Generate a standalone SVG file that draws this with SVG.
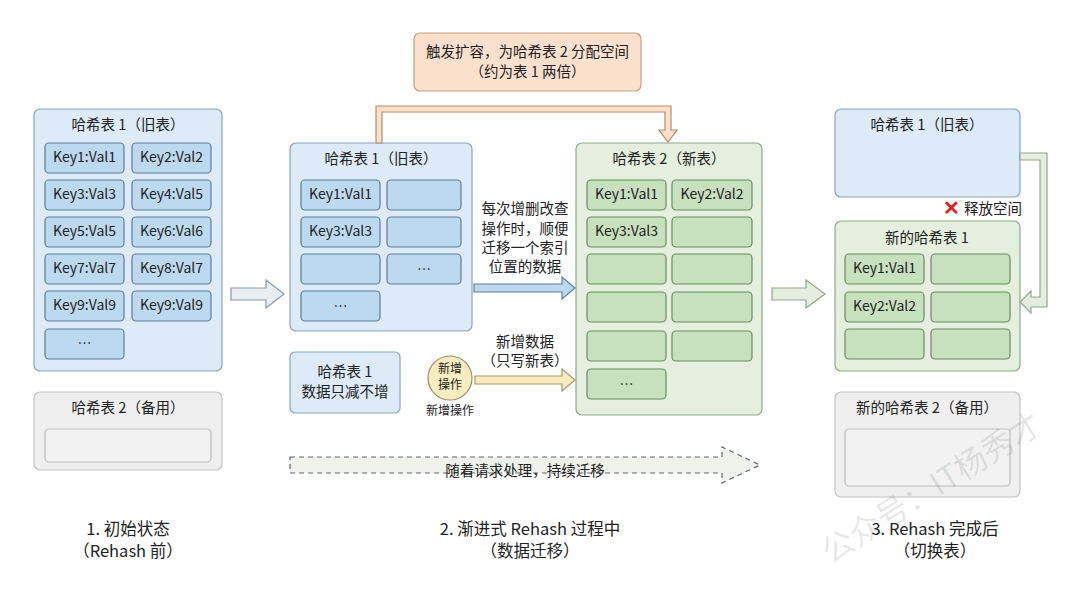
<svg xmlns="http://www.w3.org/2000/svg" width="1080" height="589" viewBox="0 0 1080 589">
<style>
text{font-family:"Noto Sans CJK SC","Noto Sans",sans-serif;fill:#222;text-anchor:middle;dominant-baseline:middle}
.t{font-size:14.5px}
.c{font-size:14px}
.cap{font-size:16.5px}
.bp{fill:#dcebf7;stroke:#8aa4bd;stroke-width:1.2}
.bc{fill:#bcd9ef;stroke:#5d7d99;stroke-width:1.2}
.gp{fill:#e4f0dd;stroke:#8fa989;stroke-width:1.2}
.gc{fill:#c7e0bd;stroke:#6b8a64;stroke-width:1.2}
.yp{fill:#efefef;stroke:#c4c4c4;stroke-width:1.2}
.yc{fill:#f2f2f2;stroke:#bdbdbd;stroke-width:1.2}
</style>
<rect width="1080" height="589" fill="#fff"/>
<g id="left-table1">
<rect class="bp" x="34" y="109" width="188" height="262" rx="6"/>
<text class="t" x="128" y="126">哈希表 1（旧表）</text>
<rect class="bc" x="45" y="143" width="79" height="30" rx="4"/><text class="c" x="84.5" y="158">Key1:Val1</text>
<rect class="bc" x="132" y="143" width="79" height="30" rx="4"/><text class="c" x="171.5" y="158">Key2:Val2</text>
<rect class="bc" x="45" y="180" width="79" height="30" rx="4"/><text class="c" x="84.5" y="195">Key3:Val3</text>
<rect class="bc" x="132" y="180" width="79" height="30" rx="4"/><text class="c" x="171.5" y="195">Key4:Val5</text>
<rect class="bc" x="45" y="217" width="79" height="30" rx="4"/><text class="c" x="84.5" y="232">Key5:Val5</text>
<rect class="bc" x="132" y="217" width="79" height="30" rx="4"/><text class="c" x="171.5" y="232">Key6:Val6</text>
<rect class="bc" x="45" y="254" width="79" height="30" rx="4"/><text class="c" x="84.5" y="269">Key7:Val7</text>
<rect class="bc" x="132" y="254" width="79" height="30" rx="4"/><text class="c" x="171.5" y="269">Key8:Val7</text>
<rect class="bc" x="45" y="291" width="79" height="30" rx="4"/><text class="c" x="84.5" y="306">Key9:Val9</text>
<rect class="bc" x="132" y="291" width="79" height="30" rx="4"/><text class="c" x="171.5" y="306">Key9:Val9</text>
<rect class="bc" x="45" y="329" width="79" height="30" rx="4"/><text class="c" x="84.5" y="344">…</text>
</g>
<g id="left-table2">
<rect class="yp" x="34" y="392" width="188" height="78" rx="6"/>
<text class="t" x="128" y="409">哈希表 2（备用）</text>
<rect class="yc" x="45" y="429" width="166" height="33" rx="4"/>
</g>
<g id="mid-table1">
<rect class="bp" x="290" y="143" width="182" height="188" rx="6"/>
<text class="t" x="381" y="160">哈希表 1（旧表）</text>
<rect class="bc" x="301" y="180" width="79" height="30" rx="4"/><text class="c" x="340.5" y="195">Key1:Val1</text>
<rect class="bc" x="387" y="180" width="74" height="30" rx="4"/>
<rect class="bc" x="301" y="217" width="79" height="30" rx="4"/><text class="c" x="340.5" y="232">Key3:Val3</text>
<rect class="bc" x="387" y="217" width="74" height="30" rx="4"/>
<rect class="bc" x="301" y="254" width="79" height="30" rx="4"/>
<rect class="bc" x="387" y="254" width="74" height="30" rx="4"/><text class="c" x="424" y="270">…</text>
<rect class="bc" x="301" y="291" width="79" height="30" rx="4"/><text class="c" x="340.5" y="307">…</text>
</g>
<g id="trigger">
<rect x="414" y="33" width="227" height="58" rx="6" fill="#fbe1cd" stroke="#c9a080" stroke-width="1.2"/>
<text class="t" x="527.5" y="53">触发扩容，为哈希表 2 分配空间</text>
<text class="t" x="527.5" y="73">（约为表 1 两倍）</text>
</g>
<g id="mid-table2">
<rect class="gp" x="576" y="143" width="186" height="272" rx="6"/>
<text class="t" x="669" y="160">哈希表 2（新表）</text>
<rect class="gc" x="587" y="180" width="79" height="30" rx="4"/><text class="c" x="626.5" y="195">Key1:Val1</text>
<rect class="gc" x="672" y="180" width="80" height="30" rx="4"/><text class="c" x="712" y="195">Key2:Val2</text>
<rect class="gc" x="587" y="217" width="79" height="30" rx="4"/><text class="c" x="626.5" y="232">Key3:Val3</text>
<rect class="gc" x="672" y="217" width="80" height="30" rx="4"/>
<rect class="gc" x="587" y="254" width="79" height="30" rx="4"/>
<rect class="gc" x="672" y="254" width="80" height="30" rx="4"/>
<rect class="gc" x="587" y="292" width="79" height="30" rx="4"/>
<rect class="gc" x="672" y="292" width="80" height="30" rx="4"/>
<rect class="gc" x="587" y="331" width="79" height="30" rx="4"/>
<rect class="gc" x="672" y="331" width="80" height="30" rx="4"/>
<rect class="gc" x="587" y="369" width="79" height="30" rx="4"/><text class="c" x="626.5" y="385">…</text>
</g>
<g id="note-shrink">
<rect class="bp" x="290" y="352" width="110" height="61" rx="5"/>
<text class="t" x="345" y="373">哈希表 1</text>
<text class="t" x="345" y="393">数据只减不增</text>
</g>
<g id="new-op">
<circle cx="450" cy="378" r="22" fill="#f8ecc0" stroke="#9a8a60" stroke-width="1.2"/>
<text class="c" x="450" y="370" style="font-size:12px">新增</text>
<text class="c" x="450" y="386" style="font-size:12px">操作</text>
<text class="c" x="450" y="412" style="font-size:12px">新增操作</text>
</g>
<g id="right-old">
<rect class="bp" x="835" y="109" width="185" height="88" rx="6"/>
<text class="t" x="927" y="126">哈希表 1（旧表）</text>
</g>
<g id="right-new1">
<rect class="gp" x="835" y="221" width="185" height="150" rx="6"/>
<text class="t" x="927" y="239">新的哈希表 1</text>
<rect class="gc" x="845" y="254" width="79" height="30" rx="4"/><text class="c" x="884.5" y="269">Key1:Val1</text>
<rect class="gc" x="931" y="254" width="79" height="30" rx="4"/>
<rect class="gc" x="845" y="292" width="79" height="30" rx="4"/><text class="c" x="884.5" y="307">Key2:Val2</text>
<rect class="gc" x="931" y="292" width="79" height="30" rx="4"/>
<rect class="gc" x="845" y="329" width="79" height="30" rx="4"/>
<rect class="gc" x="931" y="329" width="79" height="30" rx="4"/>
</g>
<g id="right-new2">
<rect class="yp" x="835" y="392" width="185" height="105" rx="6"/>
<text class="t" x="927" y="409">新的哈希表 2（备用）</text>
<rect class="yc" x="845" y="429" width="165" height="57" rx="4"/>
</g>
<g id="connectors" stroke-width="1.2" stroke-linejoin="miter">
<polygon points="231,288 266,288 266,280 284,294 266,308 266,300 231,300" fill="#e9eef3" stroke="#8a9aa8"/>
<polygon points="772,288 806,288 806,280 825,294 806,308 806,300 772,300" fill="#e4eddf" stroke="#8fa989"/>
<polygon points="376,143 376,106 671,106 671,130 677,130 668,142 659,130 665,130 665,112 382,112 382,143" fill="#fbe1cd" stroke="#b88a68"/>
<polygon points="1020,153 1047,153 1047,307 1031,307 1031,313 1020,302 1031,291 1031,297 1040,297 1040,160 1020,160" fill="#e4eddf" stroke="#8fa989"/>
<polygon points="474,284 562,284 562,277 575,288 562,299 562,292 474,292" fill="#bcd9ef" stroke="#5d7d99"/>
<polygon points="475,376 562,376 562,369 575,380 562,391 562,384 475,384" fill="#f8ecc0" stroke="#a89468"/>
<polygon points="290,457 722,457 722,447 760,465 722,483 722,473 290,473" fill="#eef2ea" stroke="#666" stroke-dasharray="5,4"/>
</g>
<g id="labels">
<text class="t" x="525" y="210">每次增删改查</text>
<text class="t" x="525" y="230">操作时，顺便</text>
<text class="t" x="525" y="249">迁移一个索引</text>
<text class="t" x="525" y="268">位置的数据</text>
<text class="t" x="525" y="343">新增数据</text>
<text class="t" x="525" y="362">（只写新表）</text>
<text class="t" x="525" y="472">随着请求处理，持续迁移</text>
<text x="951" y="210" style="font-size:20px;fill:#e02020;font-weight:bold">✕</text>
<text class="t" x="993" y="210">释放空间</text>
<text class="cap" x="128" y="531">1. 初始状态</text>
<text class="cap" x="128" y="553">（Rehash 前）</text>
<text class="cap" x="530" y="531">2. 渐进式 Rehash 过程中</text>
<text class="cap" x="530" y="553">（数据迁移）</text>
<text class="cap" x="935" y="531">3. Rehash 完成后</text>
<text class="cap" x="935" y="553">（切换表）</text>
<text x="933" y="490" transform="rotate(-32 933 490)" style="font-size:32px;fill:#000;fill-opacity:0.1">公众号：IT杨秀才</text>
</g>
</svg>
